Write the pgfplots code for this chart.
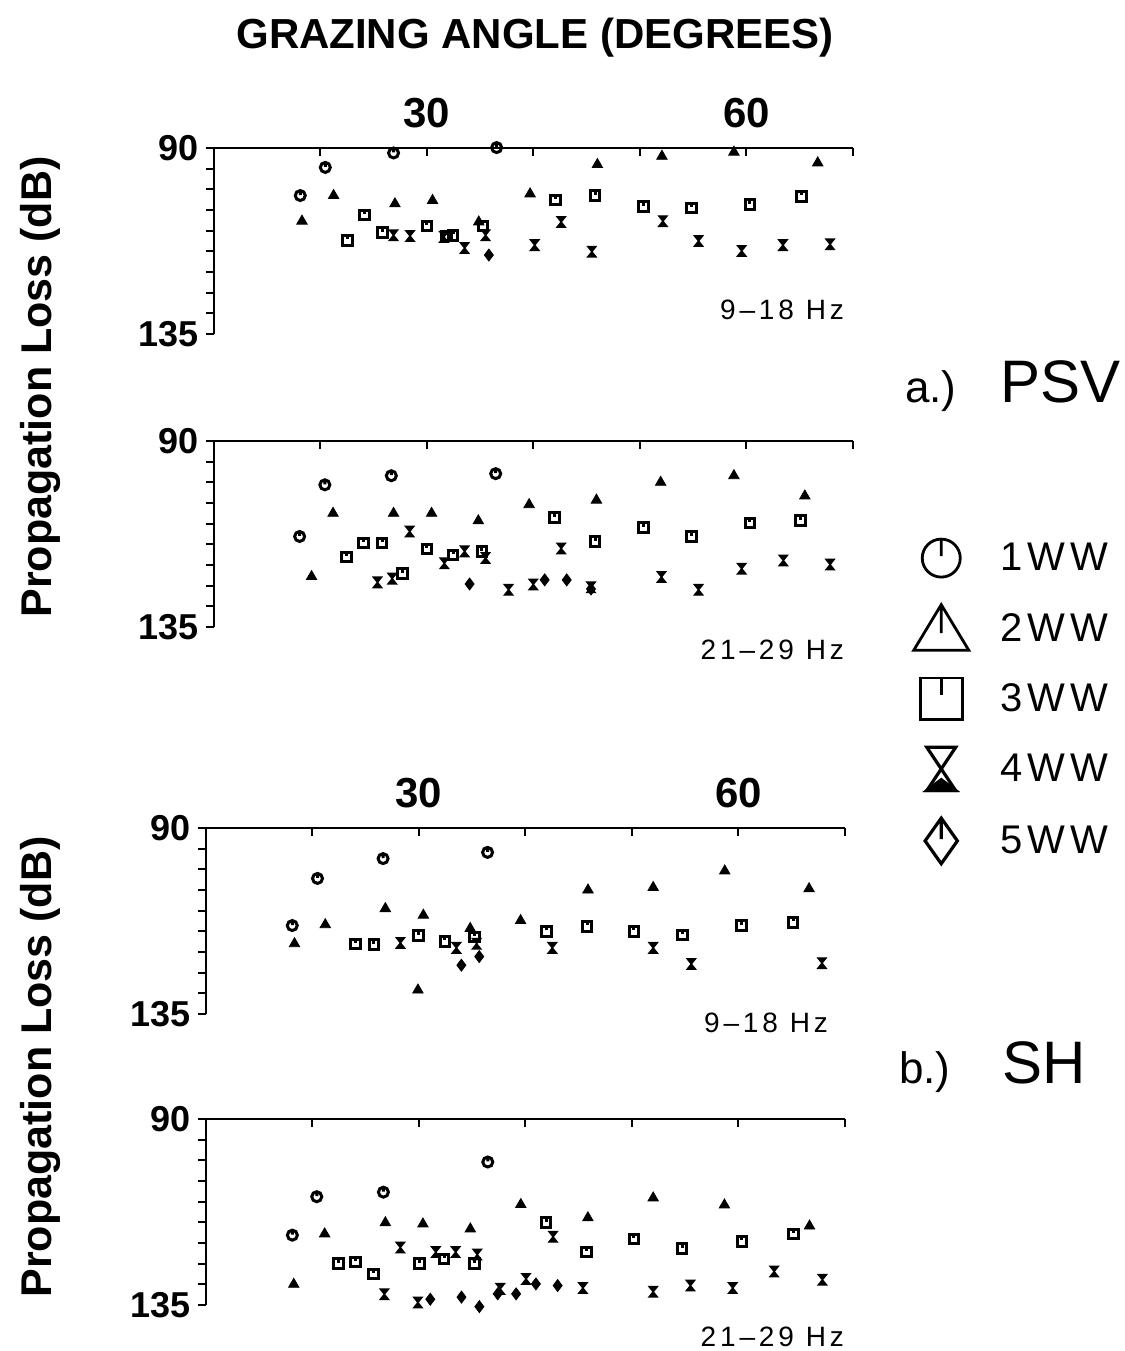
\documentclass[border=0pt]{standalone}
\usepackage{pgfplots}
\pgfplotsset{compat=1.18}
\usepackage{fontspec}
\setmainfont{Liberation Sans}
\newfontfamily\hzfont[LetterSpace=14]{Liberation Sans}
\newfontfamily\legfont[LetterSpace=12]{Liberation Sans}

% plotting symbols: shape with a short stem, as in the original plotter output
\pgfdeclareplotmark{ww1}{%
  \pgfpathcircle{\pgfpointorigin}{\pgfplotmarksize}
  \pgfpathmoveto{\pgfqpoint{0pt}{\pgfplotmarksize}}
  \pgfpathlineto{\pgfqpoint{0pt}{0.1\pgfplotmarksize}}
  \pgfusepathqstroke}
\pgfdeclareplotmark{ww2}{%
  \pgfpathmoveto{\pgfqpoint{0pt}{1.3\pgfplotmarksize}}
  \pgfpathlineto{\pgfqpoint{1.45\pgfplotmarksize}{-1.1\pgfplotmarksize}}
  \pgfpathlineto{\pgfqpoint{-1.45\pgfplotmarksize}{-1.1\pgfplotmarksize}}
  \pgfpathclose
  \pgfpathmoveto{\pgfqpoint{0pt}{1.3\pgfplotmarksize}}
  \pgfpathlineto{\pgfqpoint{0pt}{-0.2\pgfplotmarksize}}
  \pgfusepathqstroke}
\pgfdeclareplotmark{ww3}{%
  \pgfpathrectanglecorners{\pgfqpoint{-1.1\pgfplotmarksize}{-1.1\pgfplotmarksize}}{\pgfqpoint{1.1\pgfplotmarksize}{1.1\pgfplotmarksize}}
  \pgfpathmoveto{\pgfqpoint{0pt}{1.1\pgfplotmarksize}}
  \pgfpathlineto{\pgfqpoint{0pt}{0.2\pgfplotmarksize}}
  \pgfusepathqstroke}
\pgfdeclareplotmark{ww4}{%
  \pgfpathmoveto{\pgfqpoint{-0.8\pgfplotmarksize}{1.2\pgfplotmarksize}}
  \pgfpathlineto{\pgfqpoint{0.8\pgfplotmarksize}{1.2\pgfplotmarksize}}
  \pgfpathlineto{\pgfqpoint{-0.8\pgfplotmarksize}{-1.2\pgfplotmarksize}}
  \pgfpathlineto{\pgfqpoint{0.8\pgfplotmarksize}{-1.2\pgfplotmarksize}}
  \pgfpathclose
  \pgfusepathqstroke
  \pgfpathmoveto{\pgfqpoint{0pt}{-0.6\pgfplotmarksize}}
  \pgfpathlineto{\pgfqpoint{0.8\pgfplotmarksize}{-1.2\pgfplotmarksize}}
  \pgfpathlineto{\pgfqpoint{-0.8\pgfplotmarksize}{-1.2\pgfplotmarksize}}
  \pgfpathclose
  \pgfusepathqfillstroke}
\pgfdeclareplotmark{ww5}{%
  \pgfpathmoveto{\pgfqpoint{0pt}{1.2\pgfplotmarksize}}
  \pgfpathlineto{\pgfqpoint{0.85\pgfplotmarksize}{0pt}}
  \pgfpathlineto{\pgfqpoint{0pt}{-1.2\pgfplotmarksize}}
  \pgfpathlineto{\pgfqpoint{-0.85\pgfplotmarksize}{0pt}}
  \pgfpathclose
  \pgfpathmoveto{\pgfqpoint{0pt}{1.2\pgfplotmarksize}}
  \pgfpathlineto{\pgfqpoint{0pt}{0.1\pgfplotmarksize}}
  \pgfusepathqstroke}
\pgfdeclareplotmark{hglass}{%
  \pgfpathmoveto{\pgfqpoint{-0.8\pgfplotmarksize}{\pgfplotmarksize}}
  \pgfpathlineto{\pgfqpoint{0.8\pgfplotmarksize}{\pgfplotmarksize}}
  \pgfpathlineto{\pgfqpoint{-0.8\pgfplotmarksize}{-\pgfplotmarksize}}
  \pgfpathlineto{\pgfqpoint{0.8\pgfplotmarksize}{-\pgfplotmarksize}}
  \pgfpathclose
  \pgfusepathqfillstroke}

\pgfplotsset{
  panel/.style={
    width=319.5pt, height=93pt, scale only axis, clip=false,
    xmin=10, xmax=70, ymin=90, ymax=135, y dir=reverse,
    axis x line*=top, axis y line*=left,
    axis line style={line width=1.3pt},
    xtick={10,20,...,70}, ytick={90,135}, yticklabels={90,135},
    minor ytick={95,100,...,130},
    xtick align=inside, ytick align=outside,
    major tick length=4pt, minor tick length=4pt,
    every tick/.style={black, line width=1pt},
    every minor tick/.style={black, line width=1pt},
    tick label style={font=\fontsize{18}{20}\selectfont\bfseries},
    xticklabel style={font=\fontsize{21}{24}\selectfont\bfseries, yshift=6.5pt},
    /pgf/number format/assume math mode=true,
  },
  d1/.style={only marks, black, mark=ww1, mark size=2.5pt, mark options={line width=1.5pt}, forget plot},
  d2/.style={only marks, black, mark=triangle*, mark size=3pt, forget plot},
  d3/.style={only marks, black, mark=ww3, mark size=2.2pt, mark options={line width=1.5pt}, forget plot},
  d4/.style={only marks, black, mark=hglass, mark size=2.6pt, mark options={line width=0.7pt}, forget plot},
  d5/.style={only marks, black, mark=diamond*, mark size=3pt, forget plot},
}

\begin{document}
\begin{tikzpicture}
\path[use as bounding box] (0,0) rectangle (562.5pt,675.5pt);

\node[font=\fontsize{21}{25}\selectfont\bfseries] at (267.5pt,656.5pt) {GRAZING ANGLE (DEGREES)};

% ---- a.) PSV, 9-18 Hz
\begin{axis}[panel, at={(107pt,508.5pt)}, anchor=south west,
  xticklabels={,,30,,,60,}]
\addplot[d1] coordinates {(18.1,101.5) (20.45,94.7) (26.86,91.2) (36.54,89.9)};
\addplot[d2] coordinates {(18.26,107.7) (21.23,101.5) (26.99,103.5) (30.52,102.7) (34.86,107.9)
  (39.68,101.1) (46.0,94.0) (52.06,92.0) (58.82,91.0) (66.69,93.6)};
\addplot[d3] coordinates {(22.56,112.3) (24.11,106.2) (25.83,110.5) (30.0,108.9) (31.85,111.3)
  (32.45,111.1) (35.25,108.9) (42.04,102.6) (45.78,101.5) (50.34,104.2) (54.82,104.5)
  (60.32,103.7) (65.18,101.7)};
\addplot[d4] coordinates {(26.86,111.1) (28.41,111.3) (31.59,111.5) (33.53,114.2) (35.5,111.1)
  (40.11,113.5) (42.6,107.9) (45.48,115.1) (52.15,107.7) (55.5,112.5) (59.55,114.9)
  (63.42,113.5) (67.85,113.3)};
\addplot[d5] coordinates {(35.81,115.9)};
\end{axis}

% ---- a.) PSV, 21-29 Hz (carries the legend)
\begin{axis}[panel, at={(107pt,362pt)}, anchor=south west,
  xticklabels={},
  legend cell align=left,
  legend style={draw=none, fill=none, at={(axis description cs:1.085,-0.40)}, anchor=west,
    font=\fontsize{20}{24}\legfont, row sep=13.8pt, nodes={inner sep=0pt},
    /tikz/every odd column/.append style={column sep=16pt}}]
\addlegendimage{only marks, black, mark=ww1, mark size=9.5pt, mark options={line width=1.4pt}}
\addlegendentry{1WW}
\addlegendimage{only marks, black, mark=ww2, mark size=9.5pt, mark options={line width=1.4pt}}
\addlegendentry{2WW}
\addlegendimage{only marks, black, mark=ww3, mark size=9.5pt, mark options={line width=1.4pt}}
\addlegendentry{3WW}
\addlegendimage{only marks, black, mark=ww4, mark size=9pt, mark options={line width=1.6pt}}
\addlegendentry{4WW}
\addlegendimage{only marks, black, mark=ww5, mark size=9.5pt, mark options={line width=1.6pt}}
\addlegendentry{5WW}
\addplot[d1] coordinates {(18.04,113.1) (20.41,100.6) (26.65,98.4) (36.45,97.9)};
\addplot[d2] coordinates {(19.16,122.8) (21.18,107.5) (26.86,107.5) (30.43,107.5) (34.82,109.3)
  (39.59,105.4) (45.91,104.3) (51.94,100.0) (58.82,98.4) (65.48,103.3)};
\addplot[d3] coordinates {(22.47,118.1) (24.06,114.7) (25.78,114.7) (27.72,122.1) (30.0,116.1)
  (32.45,117.6) (35.16,116.8) (41.96,108.5) (45.78,114.3) (50.3,110.9) (54.82,113.1)
  (60.32,109.8) (65.05,109.3)};
\addplot[d4] coordinates {(25.35,124.2) (26.73,123.3) (28.37,111.9) (31.63,119.6) (33.53,116.7)
  (35.5,118.3) (37.66,126.0) (39.98,124.7) (42.6,116.0) (45.4,125.4) (52.02,122.9)
  (55.5,126.0) (59.55,120.9) (63.46,118.9) (67.85,119.9)};
\addplot[d5] coordinates {(34.0,124.6) (41.05,123.6) (43.12,123.6) (45.4,125.8)};
\end{axis}

% ---- b.) SH, 9-18 Hz
\begin{axis}[panel, at={(103pt,168.5pt)}, anchor=south west,
  xticklabels={,,30,,,60,}]
\addplot[d1] coordinates {(18.1,113.6) (20.47,102.2) (26.63,97.4) (36.44,95.9)};
\addplot[d2] coordinates {(18.31,118.0) (21.2,113.4) (26.84,109.5) (30.41,111.1) (34.81,114.3)
  (39.54,112.4) (45.87,105.0) (51.99,104.4) (58.71,100.4) (66.63,104.7) (29.9,129.2)};
\addplot[d3] coordinates {(24.04,118.1) (25.76,118.2) (29.98,116.0) (32.44,117.4) (35.24,116.4)
  (41.99,115.0) (45.78,113.8) (50.18,115.0) (54.74,115.9) (60.3,113.6) (65.12,112.8)};
\addplot[d4] coordinates {(28.26,117.8) (33.51,119.0) (35.41,118.0) (42.52,119.0) (51.99,119.0)
  (55.57,122.9) (67.84,122.7)};
\addplot[d5] coordinates {(33.98,123.2) (35.66,121.1)};
\end{axis}

% ---- b.) SH, 21-29 Hz
\begin{axis}[panel, at={(103pt,23pt)}, anchor=south west,
  xticklabels={}]
\addplot[d1] coordinates {(18.11,118.1) (20.4,108.8) (26.66,107.7) (36.46,100.4)};
\addplot[d2] coordinates {(18.24,130.0) (21.14,117.8) (26.84,115.1) (30.37,115.4) (34.82,116.6)
  (39.56,110.7) (45.86,113.9) (51.99,109.1) (58.68,110.8) (66.67,115.9)};
\addplot[d3] coordinates {(22.43,125.0) (24.03,124.6) (25.75,127.5) (30.03,125.0) (32.36,123.9)
  (35.2,125.0) (41.94,115.1) (45.74,122.2) (50.18,119.0) (54.71,121.4) (60.32,119.6)
  (65.16,117.8)};
\addplot[d4] coordinates {(26.75,132.4) (28.25,121.1) (29.9,134.4) (31.58,122.2) (33.44,122.2)
  (35.47,122.8) (37.63,131.1) (40.05,128.7) (42.59,118.5) (45.39,130.9) (51.99,131.8)
  (55.49,130.3) (59.46,130.9) (63.35,126.9) (67.88,128.9)};
\addplot[d5] coordinates {(31.06,133.6) (33.99,133.1) (35.67,135.4) (37.39,132.3) (39.12,132.3)
  (40.98,129.9) (43.02,130.3)};
\end{axis}

% band labels
\node[anchor=east, font=\fontsize{14}{16}\hzfont] at (425.5pt,520.5pt) {9–18 Hz};
\node[anchor=east, font=\fontsize{14}{16}\hzfont] at (425.5pt,350.5pt) {21–29 Hz};
\node[anchor=east, font=\fontsize{14}{16}\hzfont] at (417.5pt,164pt) {9–18 Hz};
\node[anchor=east, font=\fontsize{14}{16}\hzfont] at (425.5pt,7pt) {21–29 Hz};

% panel tags
\node[anchor=base west, font=\fontsize{22}{26}\selectfont] at (449pt,474pt) {a.)};
\node[anchor=base west, font=\fontsize{30}{34}\selectfont] at (496.5pt,474pt) {PSV};
\node[anchor=base west, font=\fontsize{22}{26}\selectfont] at (446pt,133.5pt) {b.)};
\node[anchor=base west, font=\fontsize{30}{34}\selectfont] at (497.5pt,133.5pt) {SH};

% shared y labels
\node[rotate=90, font=\fontsize{21.5}{24}\selectfont\bfseries] at (20pt,482pt) {Propagation Loss (dB)};
\node[rotate=90, font=\fontsize{21.5}{24}\selectfont\bfseries] at (20pt,142pt) {Propagation Loss (dB)};
\end{tikzpicture}
\end{document}
